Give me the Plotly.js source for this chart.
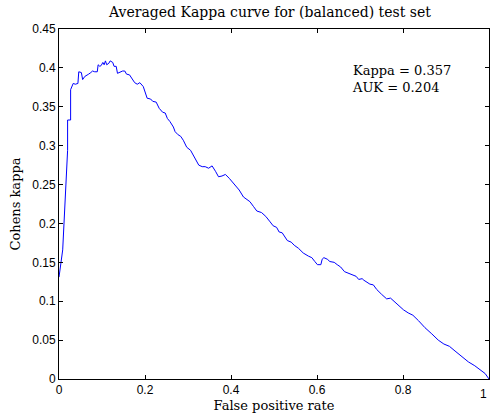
<!DOCTYPE html>
<html>
<head>
<meta charset="utf-8">
<script src="https://cdn.plot.ly/plotly-3.0.1.min.js"></script>
<style>html,body{margin:0;padding:0;background:#fff;}#chart{width:490px;height:418px;}</style>
</head>
<body>
<div id="chart"></div>
<script>
const fpr = [0, 0.0086, 0.020, 0.020, 0.027, 0.027, 0.033, 0.038, 0.044, 0.046, 0.052, 0.055, 0.060, 0.064, 0.069, 0.074, 0.078, 0.083, 0.089, 0.091, 0.095, 0.098, 0.102, 0.105, 0.108, 0.111, 0.116, 0.119, 0.125, 0.128, 0.133, 0.136, 0.142, 0.148, 0.153, 0.157, 0.164, 0.170, 0.176, 0.182, 0.188, 0.196, 0.200, 0.205, 0.213, 0.218, 0.226, 0.233, 0.241, 0.247, 0.252, 0.258, 0.266, 0.270, 0.277, 0.283, 0.289, 0.297, 0.306, 0.312, 0.319, 0.325, 0.333, 0.340, 0.348, 0.356, 0.364, 0.371, 0.379, 0.387, 0.396, 0.405, 0.413, 0.419, 0.429, 0.444, 0.452, 0.460, 0.471, 0.481, 0.491, 0.498, 0.506, 0.512, 0.519, 0.525, 0.531, 0.540, 0.547, 0.557, 0.568, 0.580, 0.588, 0.595, 0.601, 0.609, 0.612, 0.616, 0.624, 0.630, 0.640, 0.647, 0.655, 0.664, 0.674, 0.684, 0.691, 0.697, 0.705, 0.709, 0.723, 0.731, 0.739, 0.750, 0.762, 0.771, 0.779, 0.789, 0.801, 0.812, 0.823, 0.836, 0.851, 0.867, 0.882, 0.895, 0.908, 0.921, 0.937, 0.952, 0.967, 0.979, 0.991, 1.0];
const kappa = [0.131, 0.166, 0.294, 0.333, 0.333, 0.372, 0.380, 0.379, 0.380, 0.395, 0.394, 0.385, 0.389, 0.390, 0.392, 0.394, 0.396, 0.395, 0.395, 0.404, 0.402, 0.403, 0.407, 0.404, 0.409, 0.404, 0.406, 0.409, 0.407, 0.402, 0.402, 0.393, 0.395, 0.396, 0.396, 0.392, 0.391, 0.386, 0.381, 0.379, 0.381, 0.376, 0.369, 0.361, 0.360, 0.357, 0.356, 0.348, 0.343, 0.342, 0.335, 0.331, 0.324, 0.318, 0.314, 0.312, 0.307, 0.298, 0.294, 0.288, 0.282, 0.275, 0.273, 0.273, 0.271, 0.274, 0.267, 0.260, 0.261, 0.263, 0.258, 0.252, 0.248, 0.243, 0.234, 0.228, 0.222, 0.216, 0.214, 0.209, 0.202, 0.197, 0.195, 0.189, 0.188, 0.182, 0.178, 0.176, 0.172, 0.168, 0.162, 0.158, 0.156, 0.151, 0.147, 0.147, 0.154, 0.156, 0.154, 0.151, 0.150, 0.147, 0.144, 0.138, 0.136, 0.134, 0.132, 0.128, 0.129, 0.127, 0.122, 0.121, 0.115, 0.109, 0.103, 0.104, 0.100, 0.094, 0.089, 0.085, 0.082, 0.075, 0.066, 0.058, 0.050, 0.045, 0.042, 0.036, 0.029, 0.022, 0.017, 0.012, 0.007, 0.0];
const xTicks = [0, 0.2, 0.4, 0.6, 0.8, 1];
const xTickLabels = ["0", "0.2", "0.4", "0.6", "0.8", "1"];
const yTicks = [0, 0.05, 0.1, 0.15, 0.2, 0.25, 0.3, 0.35, 0.4, 0.45];
const yTickLabels = ["0", "0.05", "0.1", "0.15", "0.2", "0.25", "0.3", "0.35", "0.4", "0.45"];
const statLines = ["Kappa = 0.357", "AUK = 0.204"];

const serif = "DejaVu Serif, serif";
const sans = "Liberation Sans, Arial, sans-serif";

const axisCommon = {
  showgrid: false, zeroline: false, showline: true, linecolor: "#000", linewidth: 1,
  mirror: "ticks", ticks: "inside", ticklen: 4, tickcolor: "#000", tickwidth: 1,
  tickfont: {family: sans, size: 12, color: "#000"}
};

Plotly.newPlot("chart", [{
  x: fpr, y: kappa, type: "scatter", mode: "lines",
  line: {color: "#0000ff", width: 1}, hoverinfo: "skip"
}], {
  width: 490, height: 418,
  margin: {l: 59, r: 1, t: 29, b: 39, pad: 0},
  paper_bgcolor: "#fff", plot_bgcolor: "#fff",
  showlegend: false,
  title: {text: "Averaged Kappa curve for (balanced) test set", font: {family: serif, size: 14, color: "#000"}, x: 0.551, xanchor: "center", y: 0.972, yanchor: "middle"},
  xaxis: Object.assign({}, axisCommon, {
    range: [0, 1], tickvals: xTicks, ticktext: xTickLabels,
    title: {text: "False positive rate", font: {family: serif, size: 13, color: "#000"}, standoff: 4}
  }),
  yaxis: Object.assign({}, axisCommon, {
    range: [0, 0.45], tickvals: yTicks, ticktext: yTickLabels,
    title: {text: "Cohens kappa", font: {family: serif, size: 13, color: "#000"}, standoff: 8}
  }),
  annotations: [{
    xref: "x", yref: "y", x: 0.677, y: 0.409, xanchor: "left", yanchor: "top",
    text: statLines.join("<br>"), showarrow: false, align: "left",
    font: {family: serif, size: 13, color: "#000"}
  }, {
    xref: "x", yref: "paper", x: 1, y: 0, yshift: -6, xanchor: "right", yanchor: "top",
    text: xTickLabels[5], showarrow: false, font: {family: sans, size: 12, color: "#000"}
  }]
}, {displayModeBar: false, staticPlot: true});
</script>
</body>
</html>
